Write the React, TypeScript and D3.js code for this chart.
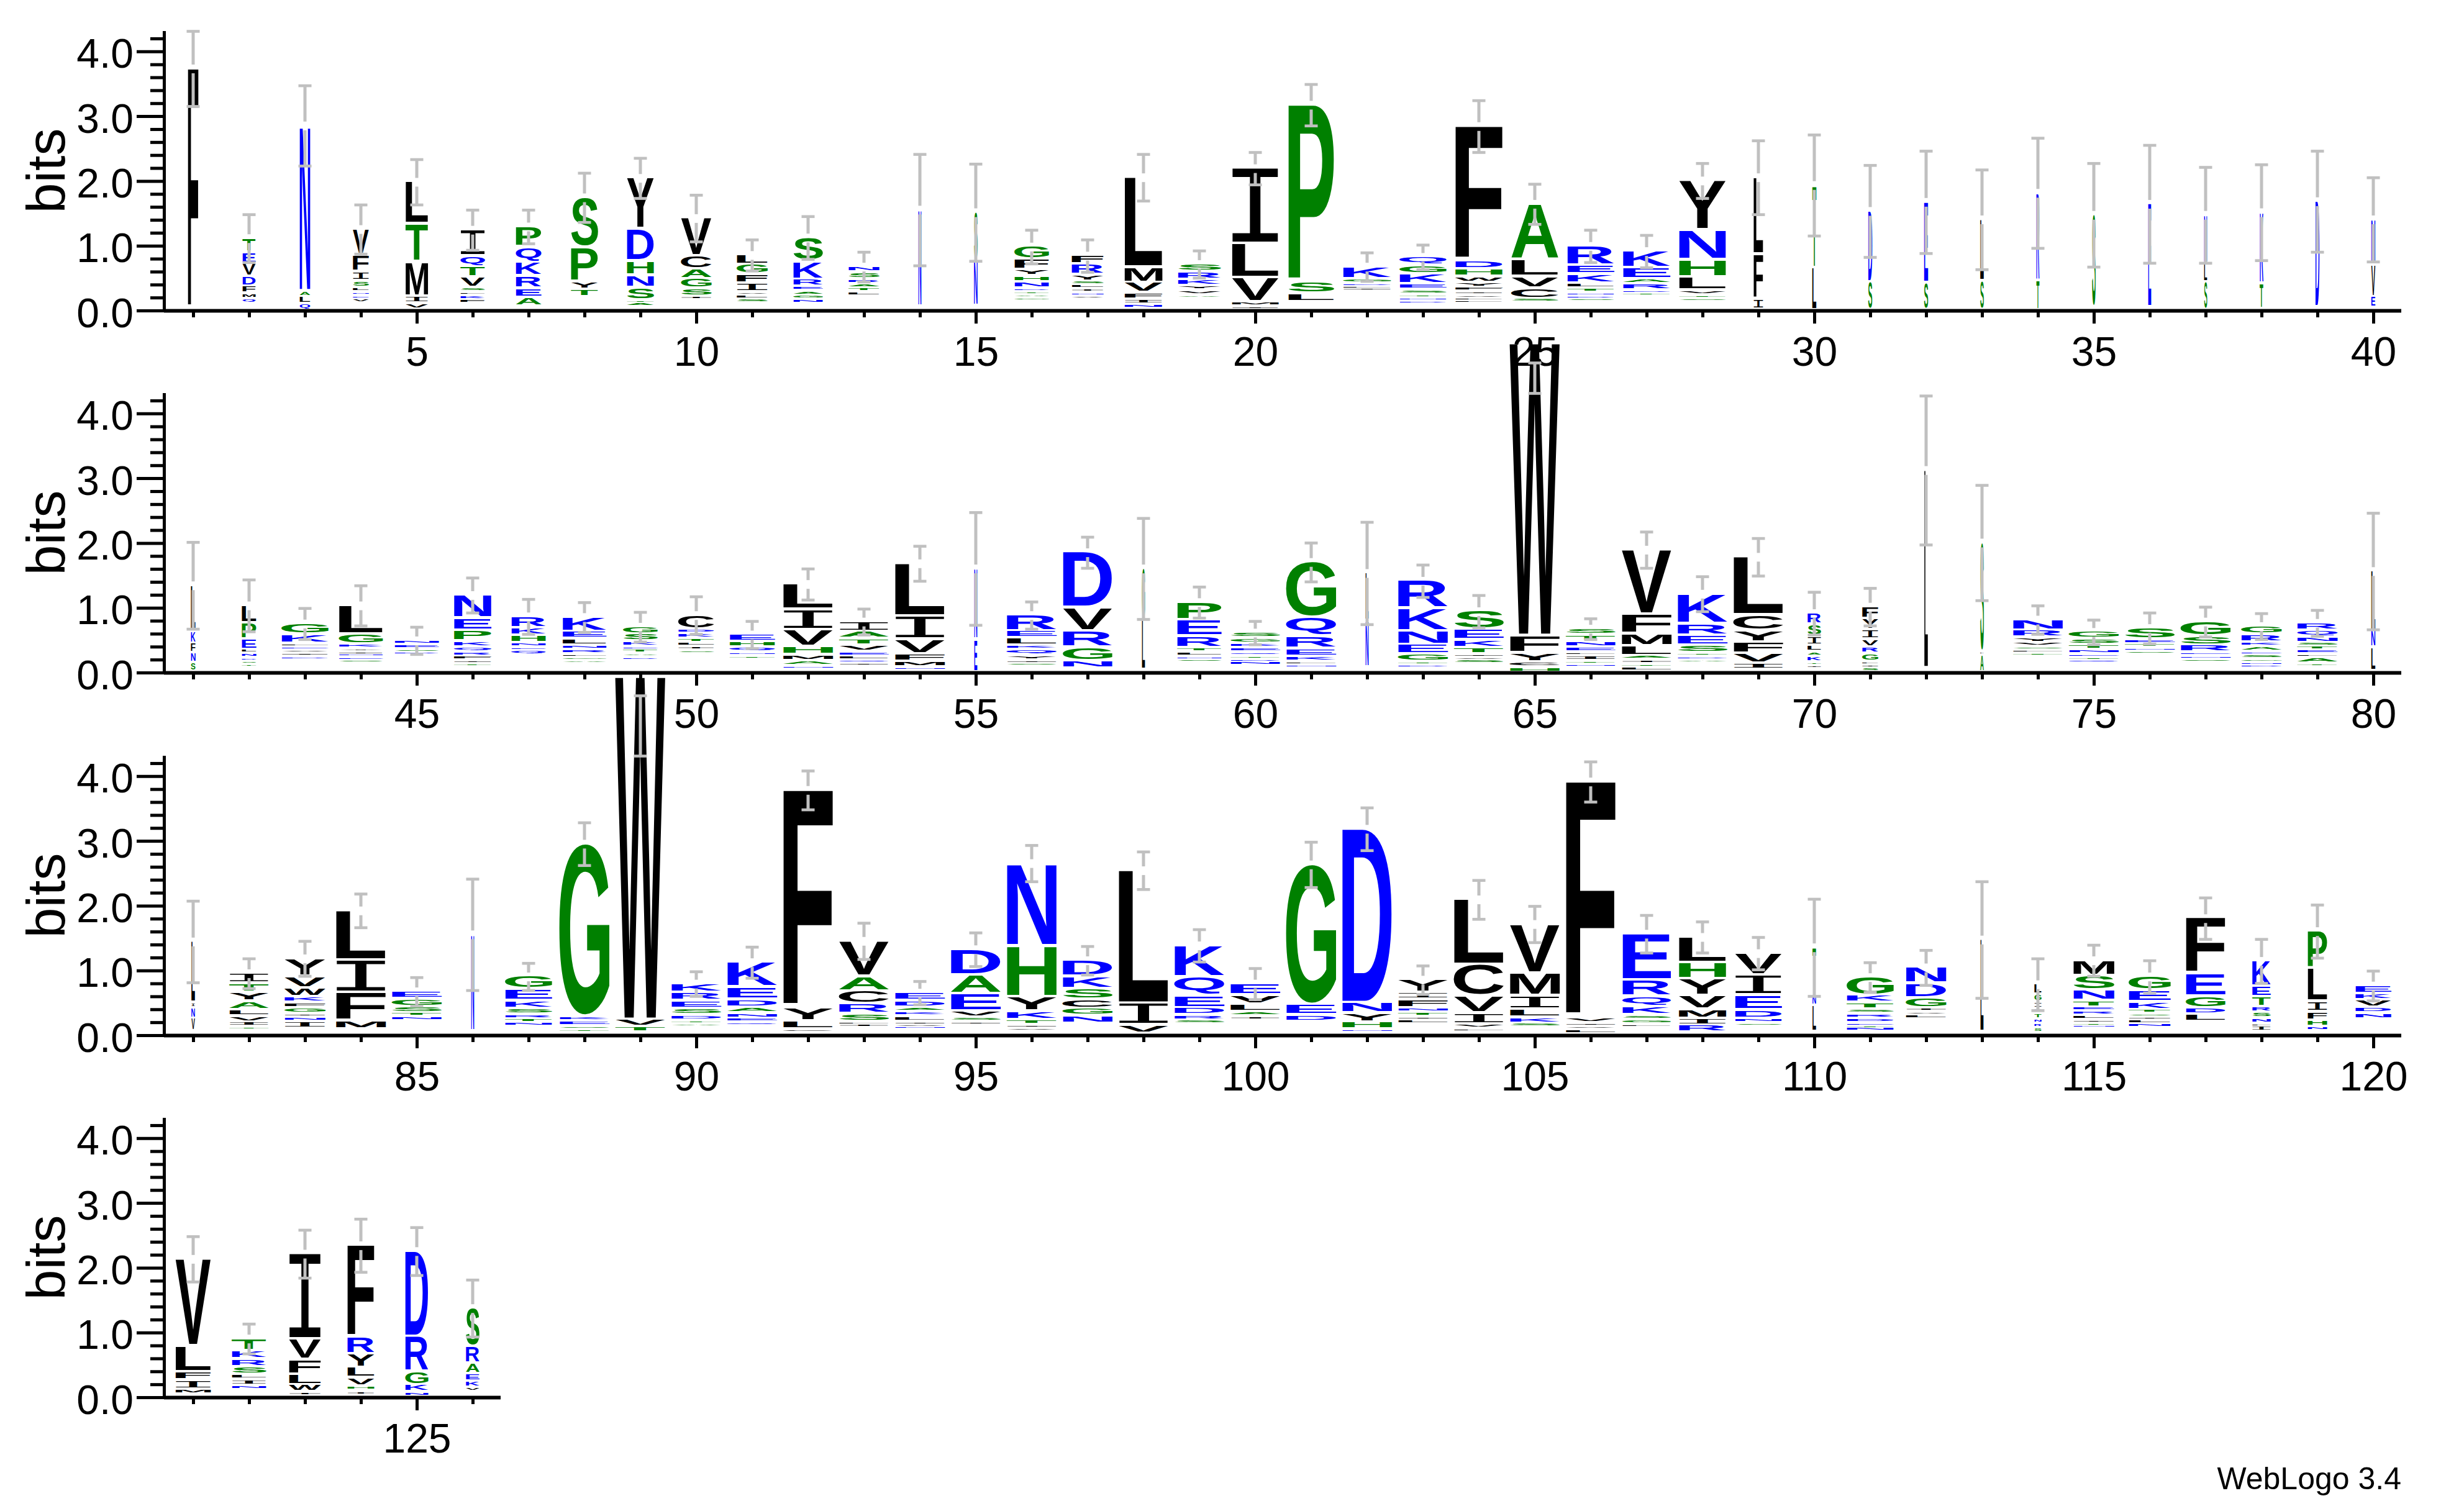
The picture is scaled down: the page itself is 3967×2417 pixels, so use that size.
import React, { useRef, useEffect } from "react";
import * as d3 from "d3";

const WIDTH = 3967;
const HEIGHT = 2417;
const AXIS_X = 264;
const STACK_WIDTH = 90;
const FULL_LETTER_WIDTH = 81;
const LETTER_GAP = 4.4;
const MIN_INK = 1.6;
const PIXELS_PER_BIT = 104.3;
const MAX_BITS = 4.32;
const GREY = "#c0c0c0";

// one row per logo line
const rowBaselines = [500, 1083, 1667, 2250];
const rowStarts = [1, 41, 81, 121];
const rowEnds = [40, 80, 120, 126];
const yTicks = [0, 1, 2, 3, 4];
const yMinorTicks = [0.2, 0.4, 0.6, 0.8, 1.2, 1.4, 1.6, 1.8, 2.2, 2.4, 2.6, 2.8, 3.2, 3.4, 3.6, 3.8, 4.2];

const greenLetters = "GSTPHA";
const blueLetters = "DEKRNQ";

// letters of each position, top of the stack first
const stackLetters = [
  "F", "TEVDFMQ", "NALQ", "VFISLNEV", "LTMIV", "IQTVSLKF", "PQKREA", "SPYT", "YDHNSTA", "VCAGSI",
  "LGFIVLS", "SKREAGN", "NSRATL", "N", "SN", "GFYHNDTAG", "FRYSLINV", "LMVFIN", "SRKYVA", "ILVMI",
  "PSL", "KGDLI", "QGKESTND", "FDHWYFIVLL", "ALVCS", "REKLTNDS", "KEARDT", "YNHLVTS", "LFI", "TL",
  "DS", "ES", "LS", "RT", "S", "E", "NLS", "KT", "D", "NVE",
  "LKFNS", "LPELNDST", "GKLEVID", "LGKYINES", "NESD", "NEPKQRFIT", "RKHNEQ", "KELNRFGA", "GSKETAD", "CDKTLIS",
  "EHQNT", "LIVHMAN", "IATVELQI", "LIVFMN", "NE", "RELKQYIS", "DVRGN", "GL", "PERTLNS", "SGKEQTDN",
  "GQREKLN", "LN", "RKNEGTD", "SEKTIVS", "WFYCH", "STNELITN", "VFMLAITL", "KRESTDA", "LCYFVI", "RSILAKTI",
  "FYIVRGLIS", "L", "SLA", "NRYVSLT", "GSTNETQ", "SETNS", "GSRENS", "GRKAESGND", "RQNSTELAT", "LNL",
  "LINV", "ITYALVIT", "YVWKFGINI", "LIFM", "EGSTN", "N", "GEKSRTN", "GKEST", "WVT", "KRESDTA",
  "KEDANEQ", "FYLC", "VACRSLI", "EDAKLIVN", "DAEVSI", "NHYKTIV", "DKSCGN", "LIV", "KQEDRS", "EVLAI",
  "GED", "DNYHN", "YIFNTIL", "LCVIVL", "VMILKS", "FVIVL", "ERQKSGL", "LHYVMIR", "VIEDNS", "TNL",
  "GKTSRDETN", "NDGIVL", "L", "LGIETNRS", "MSNTERLITN", "GEKTSILN", "FEGDL", "KETRSNLI", "PLIFHN", "EKVDN",
  "VLFIM", "TKRSLIN", "IVFLWI", "FRYLVHI", "DRGKN", "SRAEKV",
];

const stackBits = [
  [3.73], [.22, .18, .2, .15, .11, .08, .08], [2.56, .09, .11, .1], [.41, .25, .14, .11, .07, .05, .05, .07], [.65, .59, .53, .11, .09],
  [.41, .17, .16, .16, .07, .05, .07, .06], [.32, .24, .21, .19, .14, .14], [.78, .53, .12, .11], [.79, .5, .22, .19, .19, .05, .06], [.59, .2, .15, .15, .12, .06],
  [.15, .15, .14, .14, .05, .06, .06], [.37, .28, .11, .07, .07, .06, .07], [.09, .11, .07, .07, .06, .06], [1.5], [.75, .7],
  [.2, .16, .1, .09, .1, .05, .04, .05, .05], [.14, .16, .1, .06, .06, .06, .04, .05], [1.39, .24, .16, .1, .08, .06], [.12, .12, .1, .07, .07, .05], [1.17, .53, .37, .07, .05],
  [2.74, .18, .13], [.19, .07, .04, .03, .05], [.14, .13, .15, .09, .07, .05, .05, .05], [2.08, .13, .12, .09, .08, .06, .05, .04, .04, .04], [.87, .26, .18, .16, .06],
  [.3, .14, .14, .08, .07, .04, .04, .05], [.26, .17, .08, .1, .04, .05], [.77, .46, .27, .2, .07, .05, .05], [1.19, .69, .16], [1.28, .65],
  [1.1, .43], [1.25, .42], [.95, .45], [1.35, .46], [1.43], [1.6], [.75, .29, .43], [1.1, .39], [1.64], [.7, .5, .17],
  [.71, .19, .15, .15, .14], [.28, .25, .16, .06, .06, .05, .05, .05], [.17, .14, .05, .05, .05, .05, .05], [.45, .15, .07, .05, .03, .05, .04, .05], [.07, .07, .04, .05],
  [.36, .19, .17, .09, .07, .07, .06, .05, .05], [.18, .12, .11, .07, .05, .07], [.23, .11, .1, .07, .07, .04, .05, .05], [.12, .11, .08, .05, .06, .05, .05], [.22, .07, .08, .06, .06, .06, .05],
  [.11, .09, .08, .05, .05], [.4, .31, .26, .13, .09, .08, .05], [.16, .11, .1, .1, .07, .06, .04, .05], [.82, .36, .23, .11, .09, .05], [1.1, .5],
  [.25, .11, .11, .07, .09, .07, .04, .05], [.86, .36, .25, .21, .12], [.8, .77], [.28, .25, .18, .07, .06, .04, .05], [.09, .08, .07, .07, .05, .05, .05, .06],
  [.86, .29, .19, .12, .08, .05, .05], [.74, .72], [.43, .35, .21, .15, .11, .05, .05], [.29, .16, .12, .1, .04, .05, .06], [4.52, .27, .14, .08, .08],
  [.1, .1, .09, .08, .05, .08, .05, .05], [1, .3, .19, .15, .06, .07, .05, .06], [.47, .18, .15, .12, .05, .05, .05], [.9, .24, .18, .18, .15, .1], [.18, .18, .14, .1, .07, .09, .05, .05],
  [.19, .17, .15, .12, .1, .12, .05, .05, .06], [3.06], [1.69, .05, .26], [.17, .11, .08, .06, .05, .05, .05], [.11, .09, .08, .07, .04, .05, .05],
  [.18, .07, .06, .05, .05], [.23, .14, .11, .05, .05, .05], [.13, .12, .07, .08, .05, .06, .05, .04, .05], [.12, .1, .09, .06, .06, .06, .05, .09, .05], [.92, .26, .36],
  [.95, .08, .16, .2], [.16, .14, .14, .13, .1, .09, .07, .05], [.28, .18, .14, .09, .08, .09, .05, .07, .11], [.77, .5, .44, .13], [.12, .12, .1, .06, .06],
  [1.5], [.2, .18, .12, .09, .07, .06, .06], [2.67, .07, .08, .05, .05], [5.3, .11, .09], [.14, .13, .12, .1, .08, .05, .05],
  [.39, .19, .12, .09, .08, .06, .06], [3.37, .2, .13, .05], [.55, .23, .2, .15, .12, .04, .06], [.13, .1, .07, .07, .08, .04, .03, .05], [.4, .29, .27, .1, .06, .05],
  [1.28, .79, .22, .13, .08, .05, .05], [.25, .19, .17, .14, .11, .12], [2.06, .33, .13], [.49, .29, .19, .11, .08, .06], [.18, .14, .12, .07, .06],
  [2.17, .16, .1], [2.69, .16, .14, .11, .05], [.2, .11, .13, .07, .07, .05, .06], [1.01, .49, .26, .17, .07, .05], [.76, .35, .21, .13, .09, .06],
  [3.65, .08, .05, .05, .07], [.72, .25, .16, .13, .07, .07, .05], [.4, .25, .26, .21, .14, .11, .11], [.34, .31, .23, .13, .07, .05], [.74, .16, .41],
  [.29, .11, .1, .07, .07, .07, .04, .04, .06], [.25, .23, .15, .06, .05, .06], [1.43], [.16, .12, .1, .07, .09, .07, .07, .08], [.24, .23, .16, .1, .06, .07, .06, .05, .03, .05],
  [.22, .18, .12, .06, .05, .04, .07, .06], [.86, .35, .18, .1, .11], [.4, .16, .15, .09, .09, .08, .04, .09], [.58, .51, .16, .13, .1, .07], [.13, .1, .11, .09, .09],
  [1.35, .4, .13, .14, .08], [.19, .13, .12, .12, .08, .09, .07], [1.32, .32, .23, .16, .11, .06], [1.42, .26, .21, .16, .13, .07, .07], [1.32, .54, .21, .11, .07], [.6, .26, .16, .11, .1, .07],
];

// height of the top of each stack, in bits
const stackTops = [
  3.73, 1.11, 2.85, 1.25, 1.98, 1.24, 1.29, 1.74, 2.04, 1.42,
  .85, 1.12, .67, 1.55, 1.51, .98, .84, 2.05, .71, 2.19,
  3.17, .67, .82, 2.84, 1.64, .99, .91, 2.0, 2.05, 1.93,
  1.53, 1.67, 1.4, 1.81, 1.47, 1.64, 1.47, 1.51, 1.68, 1.4,
  1.34, 1.03, .75, 1.03, .49, 1.19, .86, .85, .7, .88,
  .58, 1.36, .78, 1.68, 1.6, .88, 1.85, 1.6, 1.08, .61,
  1.7, 1.53, 1.41, .94, 5.08, .67, 1.89, 1.21, 1.78, .91,
  1.01, 3.12, 2.0, .81, .62, .68, .78, .71, .76, 1.56,
  1.44, .95, 1.18, 1.92, .67, 1.55, .9, 2.95, 5.53, .79,
  1.12, 3.78, 1.45, .65, 1.32, 2.65, 1.15, 2.54, 1.38, .79,
  2.63, 3.18, .85, 2.09, 1.71, 3.91, 1.56, 1.51, 1.26, 1.35,
  .89, 1.04, 1.47, .78, 1.15, .9, 1.8, 1.14, 1.6, .76,
  2.13, .9, 2.21, 2.34, 2.25, 1.37,
];

// share of the full letter width, follows the number of sequences at the position
const stackWidths = [
  .21, .26, .21, .32, .45, .49, .51, .54, .54, .61,
  .62, .59, .62, .06, .07, .69, .64, .76, .86, .94,
  .92, .96, .94, .95, .94, .94, .95, .94, .19, .08,
  .08, .08, .07, .06, .07, .06, .06, .07, .08, .08,
  .09, .29, .94, .88, .89, .75, .69, .88, .69, .72,
  .91, 1, .99, 1, .06, 1, .99, .06, .89, .99,
  1, .06, 1, .99, 1, .99, 1, 1, 1, .27,
  .32, .07, .07, 1, 1, 1, 1, .81, .81, .08,
  .07, .79, .82, 1, 1, .06, .94, 1, 1, 1,
  1, 1, 1, 1, 1, 1, 1, 1, 1, 1,
  1, 1, 1, 1, 1, 1, .97, .95, .94, .07,
  .94, .81, .06, .14, .82, .84, .79, .37, .39, .72,
  .71, .69, .64, .54, .46, .27,
];

// half length of the error bars, in bits
const stackErrors = [
  .58, .37, .62, .38, .35, .31, .26, .38, .31, .36,
  .24, .33, .23, .86, .75, .26, .25, .36, .21, .25,
  .32, .22, .19, .4, .31, .25, .25, .27, .57, .78,
  .71, .79, .77, .85, .8, .91, .74, .74, .78, .65,
  .67, .4, .24, .31, .21, .27, .27, .23, .23, .29,
  .21, .24, .2, .27, .87, .21, .24, .78, .24, .18,
  .3, .79, .25, .25, .24, .16, .28, .27, .29, .33,
  .29, 1.15, .89, .22, .19, .24, .23, .2, .2, .9,
  .63, .23, .27, .26, .22, .86, .21, .33, .45, .19,
  .24, .3, .28, .18, .26, .28, .22, .29, .25, .24,
  .35, .33, .22, .3, .28, .31, .29, .24, .25, .75,
  .23, .27, .9, .4, .24, .25, .32, .34, .41, .23,
  .35, .23, .37, .41, .37, .44,
];

// the two W stacks overflow the axis, their bars do not sit on the stack top
const errorOverrides: { [position: number]: [number, number] } = {
  65: [4.31, 4.78],
  89: [4.31, 5.24],
};

const letterColor = (letter: string) => {
  if (greenLetters.includes(letter)) return "#008000";
  if (blueLetters.includes(letter)) return "#0000ff";
  return "#000000";
};

// I has thin slab serifs in the logo, the sans face has none
const letterFont = (letter: string) =>
  letter === "I" ? "'Liberation Mono'" : "'Liberation Sans'";
const letterWeight = (letter: string) => (letter === "I" ? "normal" : "bold");

const measureCanvas = document.createElement("canvas").getContext("2d")!;
const inkBoxes: { [letter: string]: TextMetrics } = {};
const inkBox = (letter: string) => {
  if (!inkBoxes[letter]) {
    measureCanvas.font = `${letterWeight(letter)} 100px ${letterFont(letter)}`;
    inkBoxes[letter] = measureCanvas.measureText(letter);
  }
  return inkBoxes[letter];
};

const App: React.FC = () => {
  const svgRef = useRef<SVGSVGElement | null>(null);

  const drawChart = () => {
    if (!svgRef.current) return;
    const svg = d3.select(svgRef.current);
    svg.selectAll("*").remove();
    svg.append("rect").attr("width", WIDTH).attr("height", HEIGHT).attr("fill", "#ffffff");

    rowBaselines.forEach((baseline, row) => {
      const first = rowStarts[row];
      const last = rowEnds[row];
      const positions = d3.range(first, last + 1);
      const x = d3
        .scaleLinear()
        .domain([first - 0.5, last + 0.5])
        .range([266, 266 + (last - first + 1) * STACK_WIDTH]);
      const y = d3
        .scaleLinear()
        .domain([0, MAX_BITS])
        .range([baseline, baseline - MAX_BITS * PIXELS_PER_BIT]);

      const g = svg.append("g").attr("class", "logo-row");

      // y axis
      const yMinor = g.append("g").attr("transform", `translate(${AXIS_X},0)`);
      yMinor.call(d3.axisLeft(y).tickValues(yMinorTicks).tickSize(22).tickSizeOuter(0).tickFormat(() => ""));
      const yMajor = g.append("g").attr("transform", `translate(${AXIS_X},0)`);
      yMajor.call(d3.axisLeft(y).tickValues(yTicks).tickSize(44).tickSizeOuter(0).tickFormat(d3.format(".1f") as any));
      yMajor.selectAll("text")
        .attr("x", -49)
        .attr("dy", 26)
        .attr("font-size", 66)
        .attr("font-family", "'Liberation Sans'")
        .attr("fill", "#000000");
      g.append("text")
        .attr("transform", `translate(104,${baseline - 225}) rotate(-90)`)
        .attr("text-anchor", "middle")
        .attr("font-size", 88)
        .attr("font-family", "'Liberation Sans'")
        .attr("fill", "#000000")
        .text("bits");

      // x axis
      const minorPositions = positions.filter((p) => p % 5 !== 0);
      const majorPositions = positions.filter((p) => p % 5 === 0);
      const xMinor = g.append("g").attr("transform", `translate(0,${baseline})`);
      xMinor.call(d3.axisBottom(x).tickValues(minorPositions).tickSize(21 - 10).tickSizeOuter(0).tickFormat(() => ""));
      const xMajor = g.append("g").attr("transform", `translate(0,${baseline})`);
      xMajor.call(d3.axisBottom(x).tickValues(majorPositions).tickSize(21).tickSizeOuter(0).tickFormat(d3.format("d") as any));
      xMajor.selectAll("text")
        .attr("y", 89)
        .attr("dy", 0)
        .attr("font-size", 66)
        .attr("font-family", "'Liberation Sans'")
        .attr("fill", "#000000");

      [yMinor, yMajor, xMinor, xMajor].forEach((axis, i) => {
        axis.selectAll(".tick line").attr("stroke", "#000000").attr("stroke-width", 5);
        axis.select(".domain")
          .attr("stroke", "#000000")
          .attr("stroke-width", i < 2 ? 5 : 5.5);
      });
      xMinor.select(".domain").attr("d", `M${AXIS_X},0.5H${x(last + 0.5)}`);
      xMajor.select(".domain").attr("d", `M${AXIS_X},0.5H${x(last + 0.5)}`);

      // stacks, drawn downward from the stack top
      const stacks = g.append("g").attr("class", "stacks");
      positions.forEach((position) => {
        const index = position - 1;
        const letterWidth = stackWidths[index] * FULL_LETTER_WIDTH;
        const left = x(position) - letterWidth / 2;
        let runningBits = stackTops[index];
        stackLetters[index].split("").forEach((letter, k) => {
          const bits = stackBits[index][k];
          const top = y(runningBits);
          const ink = Math.max(bits * PIXELS_PER_BIT - LETTER_GAP, MIN_INK);
          runningBits -= bits;
          const box = inkBox(letter);
          const sx = letterWidth / (box.actualBoundingBoxLeft + box.actualBoundingBoxRight);
          const sy = ink / (box.actualBoundingBoxAscent + box.actualBoundingBoxDescent);
          stacks.append("text")
            .attr("transform", `translate(${left + box.actualBoundingBoxLeft * sx},${top + box.actualBoundingBoxAscent * sy}) scale(${sx},${sy})`)
            .attr("font-size", 100)
            .attr("font-weight", letterWeight(letter))
            .attr("font-family", letterFont(letter))
            .attr("fill", letterColor(letter))
            .text(letter);
        });
      });

      // error bars, broken where they cross the stack top
      const bars = g.append("g").attr("class", "errorbars").attr("fill", GREY);
      positions.forEach((position) => {
        const index = position - 1;
        const px = x(position);
        const topBits = stackTops[index];
        const [lowBits, highBits] = errorOverrides[position]
          ?? [topBits - stackErrors[index], topBits + stackErrors[index]];
        const yLow = y(lowBits);
        const yHigh = y(highBits);
        const yTop = y(topBits);
        const segments = yTop > yHigh && yTop < yLow
          ? [[yHigh, yTop - 7], [yTop + 7, yLow]]
          : [[yHigh, yLow]];
        segments.forEach(([from, to]) => {
          bars.append("rect").attr("x", px - 2.5).attr("y", from).attr("width", 5).attr("height", to - from);
        });
        [yHigh, yLow].forEach((capY) => {
          bars.append("rect").attr("x", px - 10.5).attr("y", capY - 2.3).attr("width", 21).attr("height", 4.6);
        });
      });
    });

    svg.append("text")
      .attr("x", 3866)
      .attr("y", 2398)
      .attr("text-anchor", "end")
      .attr("font-size", 50)
      .attr("font-family", "'Liberation Sans'")
      .attr("fill", "#000000")
      .text("WebLogo 3.4");
  };

  useEffect(() => {
    drawChart();
  }, []);

  return (
    <svg
      ref={svgRef}
      width={WIDTH}
      height={HEIGHT}
      style={{ position: "absolute", left: 0, top: 0 }}
    />
  );
};

export default App;
